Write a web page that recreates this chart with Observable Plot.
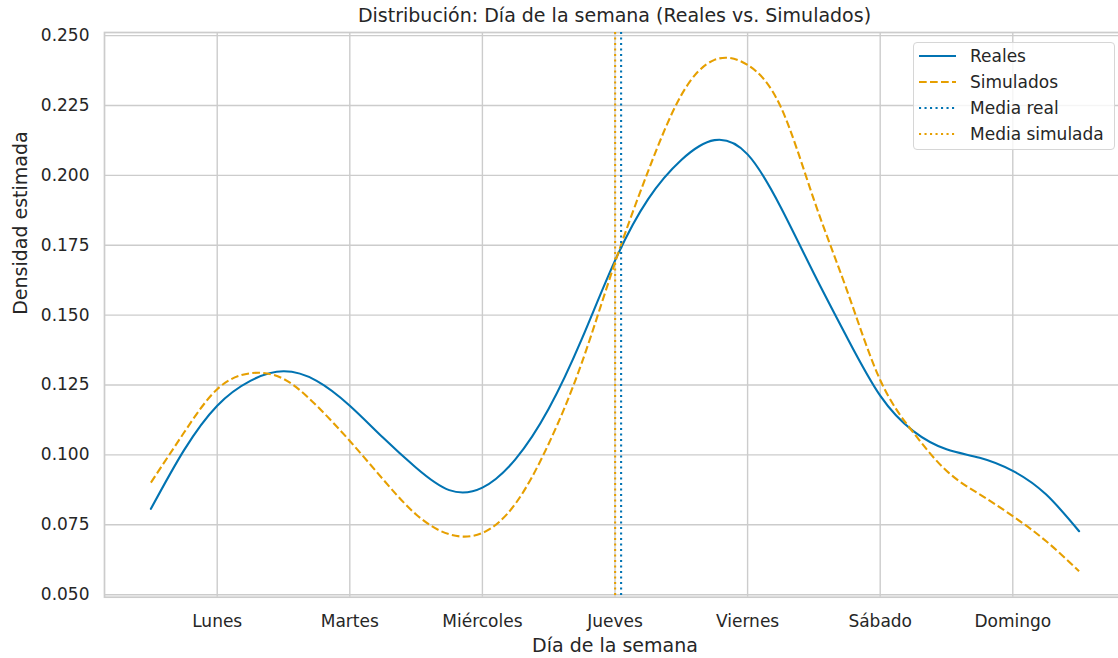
<!DOCTYPE html>
<html>
<head>
<meta charset="utf-8">
<script src="https://cdn.jsdelivr.net/npm/d3@7"></script>
<script src="https://cdn.jsdelivr.net/npm/@observablehq/plot@0.6"></script>
<style>
  html, body { margin: 0; padding: 0; background: #fff; overflow: hidden; }
  body { font-family: "DejaVu Sans", sans-serif; color: #262626; }
  #wrap { position: relative; width: 1118px; height: 658px; }
  #title { box-sizing: border-box; width: 1118px; height: 26px; padding-left: 111px;
           text-align: center; font-size: 19px; line-height: 30px; white-space: nowrap; }
  #legend { position: absolute; left: 913px; top: 42px; width: 202px; height: 108px;
            box-sizing: border-box; background: rgba(255,255,255,0.8);
            border: 1px solid #d6d6d6; border-radius: 4px; padding-top: 0px; }
  .row { height: 26px; line-height: 26px; font-size: 17px; position: relative; white-space: nowrap; }
  .row svg { position: absolute; left: 5px; top: 11px; }
  .row span { position: absolute; left: 56px; top: 0; }
</style>
</head>
<body>
<div id="wrap">
  <div id="title">Distribución: Día de la semana (Reales vs. Simulados)</div>
  <div id="chart"></div>
  <div id="legend"></div>
</div>
<script>
// ---- data ----
const days = ["Lunes", "Martes", "Miércoles", "Jueves", "Viernes", "Sábado", "Domingo"];
const dayPos = [0, 1, 2, 3, 4, 5, 6];
const yTicks = [0.05, 0.075, 0.1, 0.125, 0.15, 0.175, 0.2, 0.225, 0.25];

const gridPts = [-0.5, -0.25, 0, 0.25, 0.5, 0.75, 1, 1.25, 1.5, 1.75, 2, 2.25, 2.5, 2.75,
                 3, 3.25, 3.5, 3.75, 4, 4.25, 4.5, 4.75, 5, 5.25, 5.5, 5.75, 6, 6.25, 6.5];
const reales = [0.0807, 0.1017, 0.1176, 0.1265, 0.1299, 0.1265, 0.1176, 0.1062, 0.0954, 0.0874,
                0.0883, 0.0985, 0.1165, 0.1415, 0.1695, 0.1915, 0.2055, 0.2126, 0.2075, 0.1886,
                0.1649, 0.1420, 0.1212, 0.1085, 0.1020, 0.0990, 0.0943, 0.0859, 0.0727];
const simulados = [0.0901, 0.1080, 0.1235, 0.1292, 0.1272, 0.1176, 0.1050, 0.0913, 0.0787, 0.0716,
                   0.0721, 0.0826, 0.1040, 0.1330, 0.1688, 0.2015, 0.2287, 0.2413, 0.2395, 0.2245,
                   0.1913, 0.1588, 0.1268, 0.1080, 0.0943, 0.0859, 0.0781, 0.0692, 0.0584];
const mediaReal = 3.046;
const mediaSimulada = 3.001;

const seriesNames = ["Reales", "Simulados", "Media real", "Media simulada"];

// ---- styles ----
const BLUE = "#0173b2";
const ORANGE = "#e69f00";
const DASH = "7.7,3.3";
const DOT = "2.1,3.4";

const realData = gridPts.map((x, i) => ({x, y: reales[i]}));
const simData = gridPts.map((x, i) => ({x, y: simulados[i]}));

const chart = Plot.plot({
  width: 1118,
  height: 632,
  marginLeft: 104,
  marginRight: -7,
  marginTop: 6,
  marginBottom: 61.3,
  style: {fontFamily: "DejaVu Sans, sans-serif", fontSize: "17px", color: "#262626", background: "#fff"},
  x: {domain: [-0.85, 6.85]},
  y: {domain: [0.0491, 0.2511]},
  marks: [
    Plot.gridX(dayPos, {stroke: "#cccccc", strokeOpacity: 1, strokeWidth: 1.4}),
    Plot.gridY(yTicks, {stroke: "#cccccc", strokeOpacity: 1, strokeWidth: 1.4}),
    Plot.frame({stroke: "#cccccc", strokeWidth: 1.7}),
    Plot.axisX(dayPos, {tickSize: 0, tickPadding: 18, tickFormat: d => days[d], label: null, fontSize: 17}),
    Plot.axisY(yTicks, {tickSize: 0, tickPadding: 15, tickFormat: d3.format(".3f"), label: null, fontSize: 17}),
    Plot.line(realData, {x: "x", y: "y", stroke: BLUE, strokeWidth: 2.1, curve: "natural"}),
    Plot.line(simData, {x: "x", y: "y", stroke: ORANGE, strokeWidth: 2.1, curve: "natural",
                        strokeDasharray: DASH, strokeLinecap: "butt"}),
    Plot.ruleX([mediaReal], {stroke: BLUE, strokeWidth: 2.1, strokeDasharray: DOT, strokeLinecap: "butt"}),
    Plot.ruleX([mediaSimulada], {stroke: ORANGE, strokeWidth: 2.1, strokeDasharray: DOT, strokeLinecap: "butt"}),
    Plot.text(["Día de la semana"], {frameAnchor: "bottom", dy: 54.5, fontSize: 19, fill: "#262626"}),
    Plot.text(["Densidad estimada"], {frameAnchor: "left", dx: -84, rotate: -90, fontSize: 19, fill: "#262626"})
  ]
});
document.getElementById("chart").appendChild(chart);

// ---- legend ----
const legendStyles = [
  {stroke: BLUE, dash: null},
  {stroke: ORANGE, dash: DASH},
  {stroke: BLUE, dash: DOT},
  {stroke: ORANGE, dash: DOT}
];
const legend = document.getElementById("legend");
seriesNames.forEach((name, i) => {
  const row = document.createElement("div");
  row.className = "row";
  const s = legendStyles[i];
  row.innerHTML = `<svg width="38" height="4"><line x1="0" y1="2" x2="37" y2="2" stroke="${s.stroke}" stroke-width="2.1"${s.dash ? ` stroke-dasharray="${s.dash}"` : ""}/></svg><span>${name}</span>`;
  legend.appendChild(row);
});
</script>
</body>
</html>
